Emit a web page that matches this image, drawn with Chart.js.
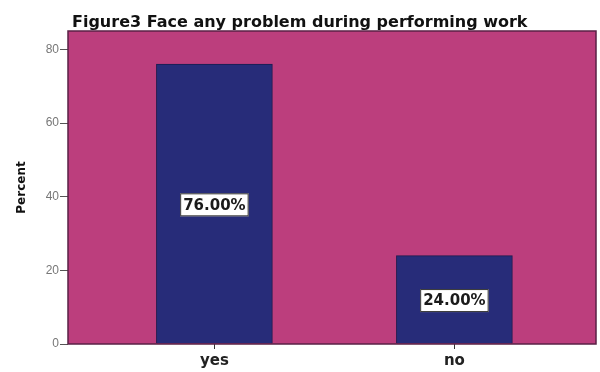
<!DOCTYPE html>
<html><head><meta charset="utf-8">
<script src="https://cdn.jsdelivr.net/npm/chart.js@4"></script>
<style>html,body{margin:0;padding:0;background:#fff}#wrap{width:600px;height:372px}</style>
</head><body><div id="wrap"><canvas id="c" width="600" height="372"></canvas></div>
<script>
const titleText = "Figure3 Face any problem during performing work";
const categories = ["yes", "no"];
const percentValues = [76, 24];
const valueLabels = ["76.00%", "24.00%"];
const yTicks = [0, 20, 40, 60, 80];

const FONT = '"DejaVu Sans", Verdana, sans-serif';

const bgPlugin = {
  id: 'bg',
  beforeDraw(chart) {
    const {ctx, chartArea: a} = chart;
    ctx.save();
    ctx.fillStyle = '#ffffff';
    ctx.fillRect(0, 0, chart.width, chart.height);
    ctx.fillStyle = '#bc3e7d';
    ctx.fillRect(a.left, a.top, a.right - a.left, a.bottom - a.top);
    ctx.restore();
  },
  afterDatasetsDraw(chart) {
    const {ctx, chartArea: a} = chart;
    ctx.save();
    ctx.strokeStyle = '#5a2146';
    ctx.lineWidth = 1.5;
    ctx.strokeRect(a.left, a.top, a.right - a.left, a.bottom - a.top);
    const meta = chart.getDatasetMeta(0);
    ctx.font = 'bold 15px ' + FONT;
    ctx.textAlign = 'center';
    ctx.textBaseline = 'middle';
    meta.data.forEach((bar, i) => {
      const cy = (bar.y + bar.base) / 2 + 1;
      const txt = valueLabels[i];
      const w = ctx.measureText(txt).width + 6;
      const h = 23;
      ctx.fillStyle = '#ffffff';
      ctx.fillRect(bar.x - w / 2, cy - h / 2, w, h);
      ctx.strokeStyle = '#333';
      ctx.lineWidth = 1;
      ctx.strokeRect(bar.x - w / 2 + 0.5, cy - h / 2 + 0.5, w - 1, h - 1);
      ctx.fillStyle = '#1a1a1a';
      ctx.fillText(txt, bar.x, cy + 1);
    });
    ctx.font = 'bold 16px ' + FONT;
    ctx.textAlign = 'left';
    ctx.textBaseline = 'alphabetic';
    ctx.fillStyle = '#111';
    ctx.fillText(titleText, 72, 27);
    ctx.restore();
  }
};

new Chart(document.getElementById('c'), {
  type: 'bar',
  data: {
    datasets: [{
      data: percentValues.map((v, i) => ({x: i, y: v})),
      backgroundColor: '#272c79',
      borderColor: '#1b1b4e',
      borderWidth: 1,
      barThickness: 116
    }]
  },
  options: {
    responsive: false,
    animation: false,
    devicePixelRatio: 1,
    layout: {padding: {top: 31, right: 4, left: 15, bottom: 0}},
    plugins: {legend: {display: false}, tooltip: {enabled: false}, title: {display: false}},
    scales: {
      x: {
        type: 'linear',
        min: -0.61, max: 1.59,
        offset: false,
        afterFit(s) { s.height = 28; },
        afterBuildTicks(s) { s.ticks = categories.map((c, i) => ({value: i})); },
        grid: {display: true, offset: false, drawOnChartArea: false, drawTicks: true, tickLength: 5, color: '#333'},
        border: {display: false},
        ticks: {
          callback: (v) => categories[v],
          color: '#222',
          font: {family: FONT, size: 15, weight: 'bold'},
          padding: 3,
          maxRotation: 0
        }
      },
      y: {
        min: 0, max: 85,
        afterFit(s) { s.width = 53; },
        afterBuildTicks(s) { s.ticks = yTicks.map(v => ({value: v})); },
        grid: {display: true, drawOnChartArea: false, drawTicks: true, tickLength: 8, color: '#555'},
        border: {display: false},
        ticks: {
          color: '#777',
          font: {family: '"Liberation Sans", Arial, sans-serif', size: 12},
          padding: 1
        },
        title: {
          display: true, text: 'Percent', color: '#111',
          font: {family: FONT, size: 12, weight: 'bold'},
          padding: {top: 0, bottom: 0}
        }
      }
    }
  },
  plugins: [bgPlugin]
});
</script>
</body></html>
